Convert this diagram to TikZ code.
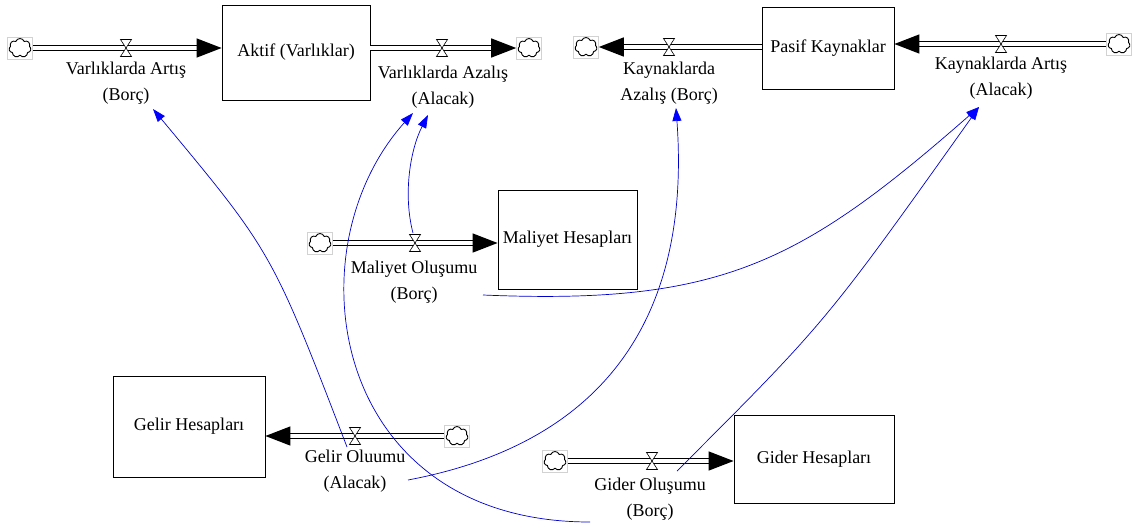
\documentclass[tikz,border=0pt]{standalone}
\usepackage{fontspec}
\setmainfont{Liberation Serif}
\usetikzlibrary{arrows.meta,shapes.symbols,calc}
\begin{document}
\begin{tikzpicture}[x=1pt,y=-1pt,
  every node/.style={font=\fontsize{18}{26}\selectfont},
  stock/.style={draw,line width=0.8pt,rectangle,inner sep=0pt},
  lbl/.style={align=center,inner sep=0pt},
  cloudbox/.style={draw=gray!35,line width=0.6pt,rectangle,minimum width=25pt,minimum height=22pt,inner sep=0pt},
  cloudsh/.style={draw,cloud,cloud puffs=7,cloud puff arc=140,cloud ignores aspect,line width=0.9pt,minimum width=22pt,minimum height=19pt,inner sep=0pt},
  pipe/.style={double=white,double distance=4.2pt,line width=1.3pt,-{Triangle[length=25pt,width=19pt]}},
  infl/.style={blue!80!black,line width=0.7pt,-{Triangle[length=13pt,width=9pt,color=blue]}},
  valve/.pic={\draw[fill=white,line width=0.6pt] (-5.5,-8.5) -- (5.5,-8.5) -- (0,0) -- cycle;
              \draw[fill=white,line width=0.6pt] (-5.5,8.5) -- (5.5,8.5) -- (0,0) -- cycle;}
]
\useasboundingbox (0,0) rectangle (1138,531);

% stocks
\node[stock,minimum width=148pt,minimum height=95pt] (aktif) at (296,52.5) {Aktif (Varlıklar)};
\node[stock,minimum width=132pt,minimum height=82pt] (pasif) at (828,48) {Pasif Kaynaklar};
\node[stock,minimum width=139pt,minimum height=99pt] (maliyet) at (567.5,239.5) {Maliyet Hesapları};
\node[stock,minimum width=152pt,minimum height=101pt] (gelir) at (189,426.5) {Gelir Hesapları};
\node[stock,minimum width=160pt,minimum height=88pt] (gider) at (814,459) {Gider Hesapları};

% clouds
\foreach \n/\x/\y in {c1/20/48, c2/529/48, c3/586/47, c4/1119/44, c5/320/243, c6/457/436, c7/555/461}{
  \node[cloudbox] (\n) at (\x,\y) {};
  \node[cloudsh] at (\n) {};
}

% pipes
\draw[pipe] (c1.east) -- (c1.east -| aktif.west);
\draw[pipe] (c2.west -| aktif.east) -- (c2.west);
\draw[pipe] (c3.east -| pasif.west) -- (c3.east);
\draw[pipe] (c4.west) -- (c4.west -| pasif.east);
\draw[pipe] (c5.east) -- (c5.east -| maliyet.west);
\draw[pipe] (c6.west) -- (c6.west -| gelir.east);
\draw[pipe] (c7.east) -- (c7.east -| gider.west);

% valves
\foreach \n/\x/\y in {v1/126/48, v2/442/48, v3/669/47, v4/1001/44, v5/415/243, v6/355/436, v7/652/461}{
  \coordinate (\n) at (\x,\y);
  \pic at (\n) {valve};
}

% labels
\node[lbl] (l1) at (126,83.5) {Varlıklarda Artış\\(Borç)};
\node[lbl] (l2) at (443,87) {Varlıklarda Azalış\\(Alacak)};
\node[lbl] (l3) at (669,83) {Kaynaklarda\\Azalış (Borç)};
\node[lbl] (l4) at (1001,78.5) {Kaynaklarda Artış\\(Alacak)};
\node[lbl] (l5) at (414,282) {Maliyet Oluşumu\\(Borç)};
\node[lbl] (l6) at (355,471) {Gelir Oluumu\\(Alacak)};
\node[lbl] (l7) at (650,499) {Gider Oluşumu\\(Borç)};

% connector end points
\coordinate (gelirV) at (347,447);
\coordinate (artisB) at (153,109);
\coordinate (giderL) at (590,522);
\coordinate (azalisA1) at (413,113);
\coordinate (maliyetV) at (413,233);
\coordinate (azalisA2) at (428,115);
\coordinate (gelirL) at (408,480);
\coordinate (kazalisB) at (676,108);
\coordinate (maliyetL) at (483,295);
\coordinate (kartisA) at (979,107);
\coordinate (giderV) at (677,471);

% information links
\draw[infl] (gelirV) .. controls (272,252) .. (artisB);
\draw[infl] (giderL) .. controls (330,522) and (290,250) .. (azalisA1);
\draw[infl] (maliyetV) .. controls (403,195) and (410,150) .. (azalisA2);
\draw[infl] (gelirL) .. controls (620,440) and (690,300) .. (kazalisB);
\draw[infl] (maliyetL) .. controls (720,305) and (800,264) .. (kartisA);
\draw[infl] (giderV) .. controls (826,322) .. (kartisA);
\end{tikzpicture}
\end{document}
